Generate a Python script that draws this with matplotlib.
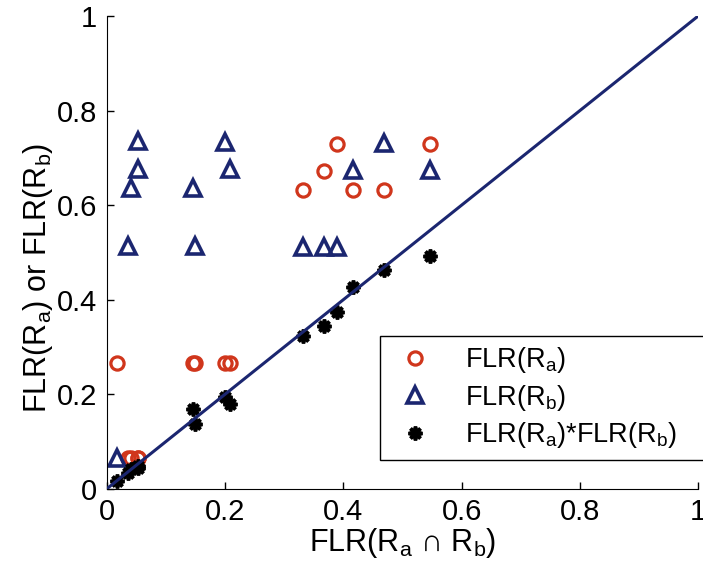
import matplotlib
matplotlib.use('Agg')
import matplotlib.pyplot as plt

plt.rcParams['font.family'] = ['Liberation Sans', 'DejaVu Sans']
plt.rcParams['mathtext.fontset'] = 'custom'
plt.rcParams['mathtext.rm'] = 'Liberation Sans'
plt.rcParams['mathtext.it'] = 'Liberation Sans'

# FLR(Ra n Rb) for each pair
flr_ab = [0.018, 0.036, 0.040, 0.053, 0.053, 0.145, 0.149, 0.200, 0.208,
          0.332, 0.367, 0.390, 0.417, 0.469, 0.547]
flr_a = [0.265, 0.065, 0.065, 0.065, 0.065, 0.265, 0.265, 0.265, 0.265,
         0.632, 0.672, 0.729, 0.632, 0.632, 0.729]
flr_b = [0.065, 0.514, 0.636, 0.735, 0.677, 0.636, 0.514, 0.734, 0.677,
         0.512, 0.512, 0.512, 0.674, 0.732, 0.674]
flr_prod = [0.017, 0.033, 0.041, 0.048, 0.044, 0.169, 0.136, 0.195, 0.179,
            0.323, 0.345, 0.374, 0.426, 0.463, 0.492]
diag = [0, 1]
ticks = [0, 0.2, 0.4, 0.6, 0.8, 1]
tick_labels = ['0', '0.2', '0.4', '0.6', '0.8', '1']

red = '#d0361c'
navy = '#1b2670'

fig = plt.figure(figsize=(7.03, 5.75), dpi=100)
ax = fig.add_axes([0.152, 0.150, 0.841, 0.822])

ax.plot(flr_ab, flr_a, 'o', ls='none', mfc='none', mec=red, ms=9.5, mew=2.3,
        label=r'FLR(R$_a$)')
ax.plot(flr_ab, flr_b, '^', ls='none', mfc='none', mec=navy, ms=12, mew=2.6,
        label=r'FLR(R$_b$)')
ax.plot(flr_ab, flr_prod, marker=(8, 2, 0), ls='none', color='black', ms=10,
        mew=2.6, label=r'FLR(R$_a$)*FLR(R$_b$)')
ax.plot(diag, diag, '-', color=navy, lw=2.2, zorder=5)

ax.set_xlim(0, 1)
ax.set_ylim(0, 1)
ax.set_xticks(ticks)
ax.set_xticklabels(tick_labels)
ax.set_yticks(ticks)
ax.set_yticklabels(tick_labels)
ax.tick_params(direction='in', length=5, width=1, labelsize=21, pad=7)
ax.spines['top'].set_visible(False)
ax.spines['right'].set_visible(False)

ax.set_xlabel(r'FLR(R$_a$ $\cap$ R$_b$)', fontsize=22, labelpad=0)
ax.set_ylabel(r'FLR(R$_a$) or FLR(R$_b$)', fontsize=22, labelpad=0)
ax.yaxis.set_label_coords(-0.088, 0.447)

leg = ax.legend(loc='upper left', bbox_to_anchor=(0.462, 0.324, 0.6, 0.0),
                mode='expand', fontsize=19.5, frameon=True, fancybox=False,
                edgecolor='black', framealpha=1, borderpad=0.35,
                labelspacing=0.28, handletextpad=0.9, handlelength=1.9,
                borderaxespad=0)
leg.get_frame().set_linewidth(1.0)

plt.savefig('out.png', dpi=100)
